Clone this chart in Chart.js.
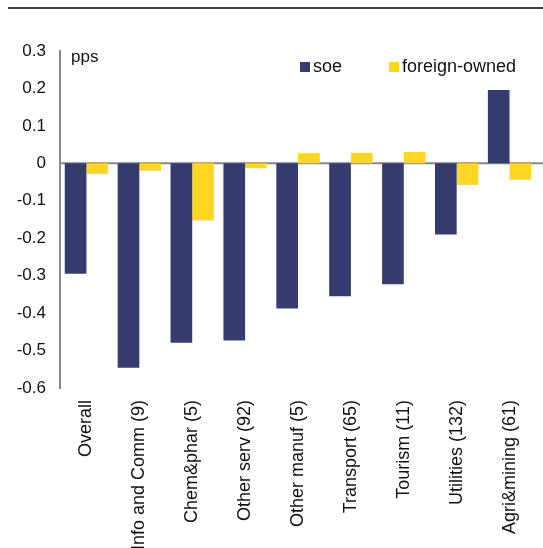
<!DOCTYPE html>
<html>
<head>
<meta charset="utf-8">
<script src="https://cdn.jsdelivr.net/npm/chart.js@4/dist/chart.umd.min.js"></script>
<style>
  html, body { margin: 0; padding: 0; background: #fff; }
  #wrap { width: 543px; height: 548px; position: relative; }
</style>
</head>
<body>
<div id="wrap"><canvas id="chart"></canvas></div>
<script>
// --- data ---
const sectors = ["Overall", "Info and Comm (9)", "Chem&phar (5)", "Other serv (92)", "Other manuf (5)",
  "Transport (65)", "Tourism (11)", "Utilities (132)", "Agri&mining (61)"];
const soe = [-0.295, -0.546, -0.479, -0.473, -0.388, -0.355, -0.323, -0.19, 0.196];
const foreignOwned = [-0.028, -0.02, -0.153, -0.013, 0.027, 0.028, 0.03, -0.058, -0.044];
const yTicks = [0.3, 0.2, 0.1, 0, -0.1, -0.2, -0.3, -0.4, -0.5, -0.6];

const SOE_COL = "#363c70";
const FOR_COL = "#ffd624";
const FONT = "'Liberation Sans', Arial, sans-serif";

// extra drawing: top rule, zero line, unit label, legend
const decor = {
  id: "decor",
  beforeDatasetsDraw(chart) {
    const ctx = chart.ctx;
    const y0 = chart.scales.y.getPixelForValue(0);
    ctx.save();
    ctx.strokeStyle = "#888";
    ctx.lineWidth = 2;
    ctx.beginPath();
    ctx.moveTo(chart.chartArea.left, y0);
    ctx.lineTo(chart.width, y0);
    ctx.stroke();
    ctx.restore();
  },
  afterDraw(chart) {
    const ctx = chart.ctx;
    ctx.save();
    ctx.strokeStyle = "#000";
    ctx.lineWidth = 1.5;
    ctx.beginPath();
    ctx.moveTo(8, 8);
    ctx.lineTo(chart.width, 8);
    ctx.stroke();

    ctx.fillStyle = "#111";
    ctx.textBaseline = "middle";
    ctx.textAlign = "left";
    ctx.font = "17px " + FONT;
    ctx.fillText("pps", 71, 57);

    ctx.font = "18px " + FONT;
    ctx.fillStyle = SOE_COL;
    ctx.fillRect(300, 62, 10, 10);
    ctx.fillStyle = "#111";
    ctx.fillText("soe", 313, 67);
    ctx.fillStyle = FOR_COL;
    ctx.fillRect(389, 62, 10, 10);
    ctx.fillStyle = "#111";
    ctx.fillText("foreign-owned", 402, 67);
    ctx.restore();
  }
};

new Chart(document.getElementById("chart"), {
  type: "bar",
  data: {
    labels: sectors,
    datasets: [
      { label: "soe", data: soe, backgroundColor: SOE_COL },
      { label: "foreign-owned", data: foreignOwned, backgroundColor: FOR_COL }
    ]
  },
  options: {
    responsive: true,
    maintainAspectRatio: false,
    animation: false,
    layout: { padding: { top: 51, right: 7, left: 0, bottom: 0 } },
    datasets: { bar: { categoryPercentage: 0.82, barPercentage: 1.0 } },
    plugins: {
      legend: { display: false },
      tooltip: { enabled: false }
    },
    scales: {
      x: {
        grid: { display: false },
        border: { display: false },
        ticks: {
          color: "#111",
          font: { family: FONT, size: 18 },
          minRotation: 90,
          maxRotation: 90,
          autoSkip: false,
          padding: 4
        },
        afterFit(scale) { scale.height = 160; }
      },
      y: {
        min: -0.6,
        max: 0.3,
        afterBuildTicks(scale) { scale.ticks = yTicks.map(v => ({ value: v })); },
        grid: { display: false, drawTicks: false },
        border: { display: true, color: "#888", width: 2 },
        ticks: {
          color: "#111",
          font: { family: FONT, size: 17 },
          padding: 14,
          callback: v => (Math.round(v * 10) / 10).toString()
        },
        afterFit(scale) { scale.width = 60; }
      }
    }
  },
  plugins: [decor]
});
</script>
</body>
</html>
